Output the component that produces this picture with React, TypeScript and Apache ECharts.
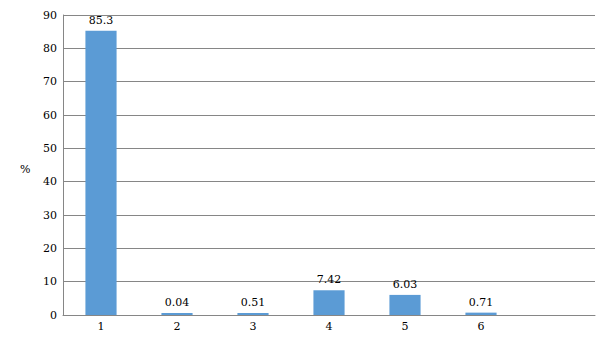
import React, { useEffect, useRef } from "react";
import * as echarts from "echarts";

const categories = ["1", "2", "3", "4", "5", "6", ""];
const values: (number | null)[] = [85.3, 0.04, 0.51, 7.42, 6.03, 0.71, null];
const yTicks = { min: 0, max: 90, interval: 10 };
const yUnit = "%";

export default function App() {
  const ref = useRef<HTMLDivElement>(null);
  useEffect(() => {
    if (!ref.current) return;
    const chart = echarts.init(ref.current, null, { renderer: "svg" });
    const font = "DejaVu Serif";
    chart.setOption({
      animation: false,
      textStyle: { fontFamily: font },
      grid: { left: 63, right: 10, top: 15, bottom: 25, containLabel: false },
      graphic: [
        {
          type: "text",
          left: 20,
          top: 164,
          style: { text: yUnit, fill: "#000", font: `11px "${font}"` },
        },
      ],
      xAxis: {
        type: "category",
        data: categories,
        axisLine: { lineStyle: { color: "#868686", width: 1 } },
        axisTick: { show: false },
        axisLabel: { color: "#000", fontSize: 11, fontFamily: font, margin: 6 },
      },
      yAxis: {
        type: "value",
        min: yTicks.min,
        max: yTicks.max,
        interval: yTicks.interval,
        axisLine: { show: true, lineStyle: { color: "#868686", width: 1 } },
        axisTick: { show: false },
        axisLabel: { color: "#000", fontSize: 11, fontFamily: font, margin: 6 },
        splitLine: { lineStyle: { color: "#868686", width: 1 } },
      },
      series: [
        {
          type: "bar",
          data: values,
          barWidth: "41%",
          barMinHeight: 2,
          itemStyle: { color: "#5B9BD5" },
          label: {
            show: true,
            position: "top",
            distance: 5,
            color: "#000",
            fontSize: 11,
            fontFamily: font,
          },
        },
      ],
    });
    return () => chart.dispose();
  }, []);
  return (
    <div
      ref={ref}
      style={{ position: "fixed", left: 0, top: 0, width: 605, height: 340, background: "#fff" }}
    />
  );
}
